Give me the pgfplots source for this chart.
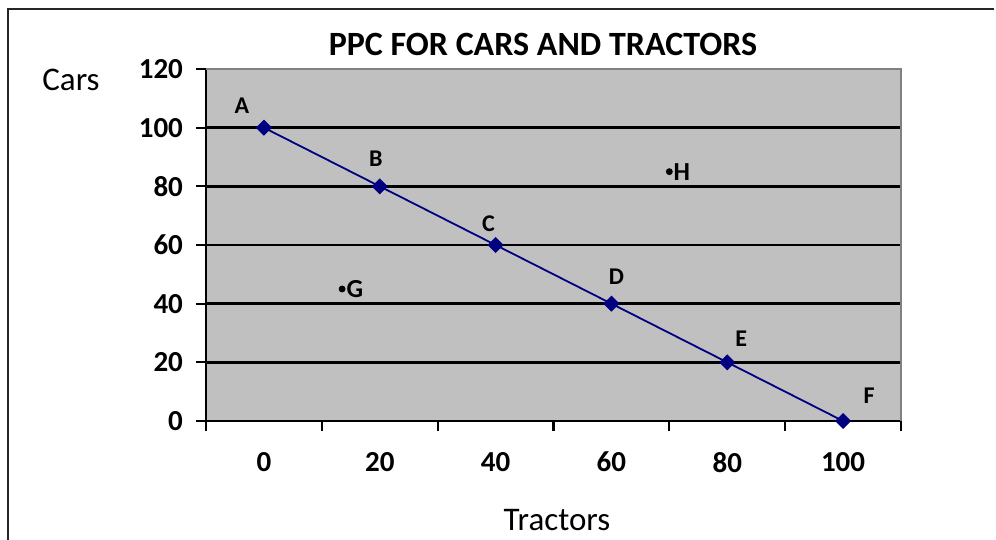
\documentclass[border=0pt]{standalone}
\usepackage{fontspec}
\setmainfont{Carlito}
\usepackage{pgfplots}
\pgfplotsset{compat=1.18}
\definecolor{navy}{HTML}{000080}
\definecolor{bg}{HTML}{C0C0C0}
\definecolor{bordergray}{HTML}{808080}
\begin{document}
\begin{tikzpicture}
\path[use as bounding box] (0,0) rectangle (498pt,270pt);
\draw[black!85, line width=0.7pt] (4pt,-2pt) -- (4pt,265.5pt) -- (497pt,265.5pt);
\node[font=\fontsize{17}{20}\selectfont\bfseries] at (271.5pt,248pt) {PPC FOR CARS AND TRACTORS};
\node[font=\fontsize{16.5}{19}\selectfont] at (35.5pt,230pt) {Cars};
\node[font=\fontsize{16.5}{19}\selectfont] at (278.5pt,10pt) {Tractors};
\begin{axis}[
 at={(103pt,59.5pt)}, anchor=south west,
 scale only axis, width=347.5pt, height=176pt,
 xmin=-10, xmax=110, ymin=0, ymax=120,
 axis x line*=bottom, axis y line*=left,
 axis line style={black, line width=1.2pt, -},
 every outer x axis line/.append style={-},
 every outer y axis line/.append style={-},
 axis background/.style={fill=bg},
 ytick={0,20,...,120},
 ymajorgrids, grid style={black, line width=1.2pt},
 xtick={-10,10,...,110}, xticklabels={},
 extra x ticks={0,20,...,100},
 extra x tick style={major tick length=0pt, grid=none},
 tick align=outside,
 major tick length=5pt,
 tick style={black, line width=1.1pt},
 ticklabel style={font=\fontsize{14.5}{16}\selectfont\bfseries},
 /pgf/number format/assume math mode=true,
 xticklabel style={yshift=-12pt},
 yticklabel style={xshift=-3pt},
 clip=false,
]
\draw[bordergray, line width=1pt] (rel axis cs:0,1) -- (rel axis cs:1,1) -- (rel axis cs:1,0);
\addplot[navy, line width=0.9pt, mark=square*, mark size=2.4pt, mark options={rotate=45, solid, fill=navy}]
  coordinates {(0,100) (20,80) (40,60) (60,40) (80,20) (100,0)};
\addplot[only marks, mark=*, mark size=1.5pt, black] coordinates {(13.5,45) (70,85)};
\begin{scope}[every node/.style={font=\fontsize{12}{14}\selectfont\bfseries}]
\node at (axis cs:0,100) [xshift=-11pt, yshift=11pt] {A};
\node at (axis cs:20,80) [xshift=-2pt, yshift=14pt] {B};
\node at (axis cs:40,60) [xshift=-3.5pt, yshift=10.5pt] {C};
\node at (axis cs:60,40) [xshift=2.5pt, yshift=13.5pt] {D};
\node at (axis cs:80,20) [xshift=7pt, yshift=12pt] {E};
\node at (axis cs:100,0) [xshift=13pt, yshift=12.5pt] {F};
\end{scope}
\node[font=\fontsize{13}{15}\selectfont\bfseries, anchor=west, inner sep=0pt] at (axis cs:13.5,45) [xshift=2pt] {G};
\node[font=\fontsize{13}{15}\selectfont\bfseries, anchor=west, inner sep=0pt] at (axis cs:70,85) [xshift=2pt] {H};
\end{axis}
\end{tikzpicture}
\end{document}
